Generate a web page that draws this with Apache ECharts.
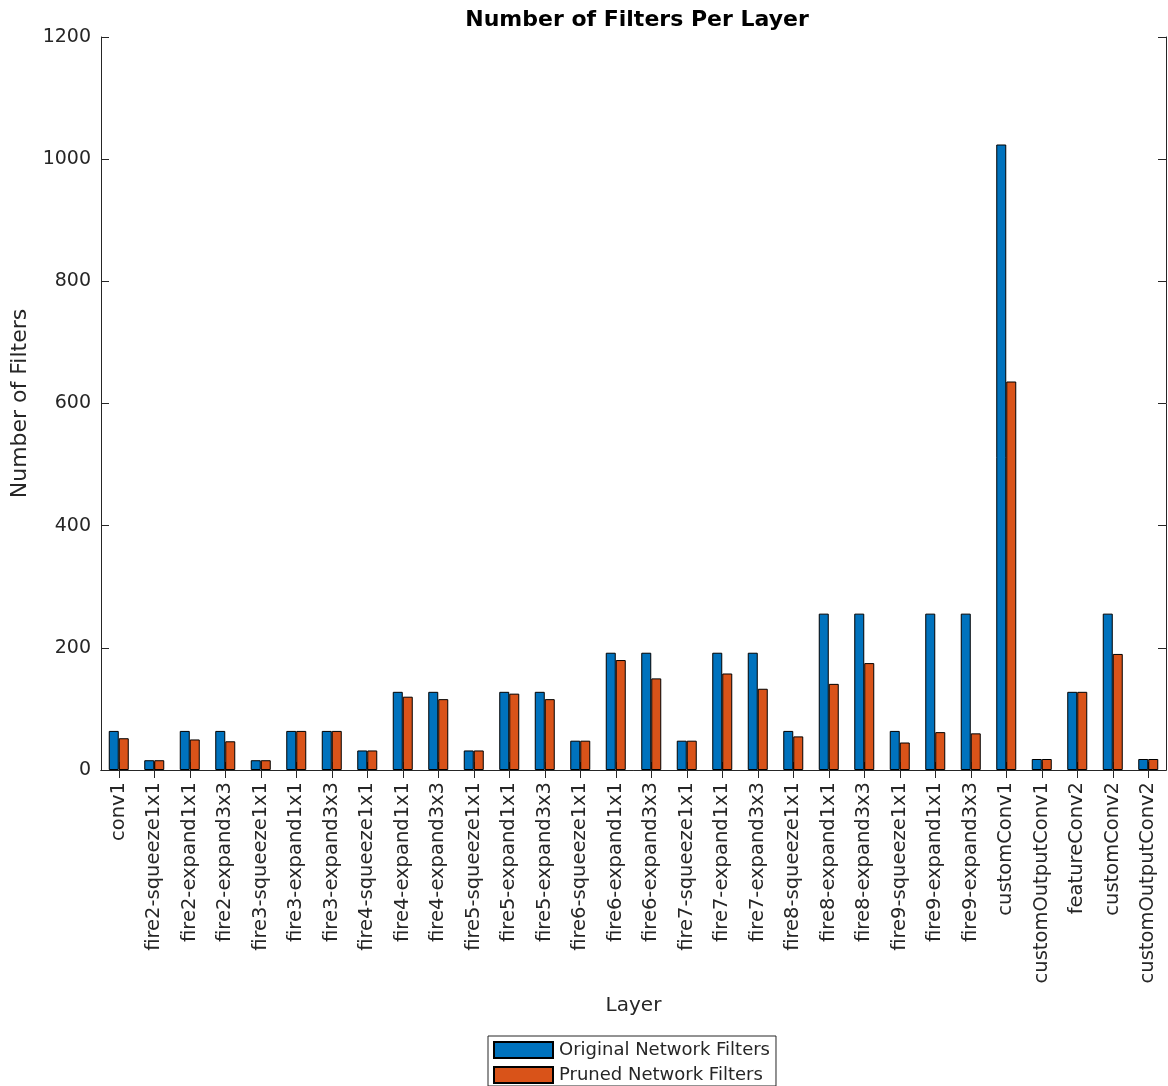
<!DOCTYPE html>
<html>
<head>
<meta charset="utf-8">
<script src="https://cdn.jsdelivr.net/npm/echarts@6/dist/echarts.min.js"></script>
<style>
html,body{margin:0;padding:0;background:#fff;}
#chart{width:1168px;height:1086px;}
</style>
</head>
<body>
<div id="chart"></div>
<script>
const layers = ["conv1","fire2-squeeze1x1","fire2-expand1x1","fire2-expand3x3","fire3-squeeze1x1","fire3-expand1x1","fire3-expand3x3","fire4-squeeze1x1","fire4-expand1x1","fire4-expand3x3","fire5-squeeze1x1","fire5-expand1x1","fire5-expand3x3","fire6-squeeze1x1","fire6-expand1x1","fire6-expand3x3","fire7-squeeze1x1","fire7-expand1x1","fire7-expand3x3","fire8-squeeze1x1","fire8-expand1x1","fire8-expand3x3","fire9-squeeze1x1","fire9-expand1x1","fire9-expand3x3","customConv1","customOutputConv1","featureConv2","customConv2","customOutputConv2"];
const originalFilters = [64,16,64,64,16,64,64,32,128,128,32,128,128,48,192,192,48,192,192,64,256,256,64,256,256,1024,18,128,256,18];
const prunedFilters = [52,16,50,47,16,64,64,32,120,116,32,125,116,48,180,150,48,158,133,55,141,175,45,62,60,636,18,128,190,18];
const yTicks = [0,200,400,600,800,1000,1200];

const FONT = 'DejaVu Sans';
const TXT = '#262626';
const chart = echarts.init(document.getElementById('chart'), null, {renderer:'canvas'});
const tickStyle = {show:true, inside:true, length:8, lineStyle:{color:TXT, width:1}};
chart.setOption({
  animation:false,
  backgroundColor:'#ffffff',
  textStyle:{fontFamily:FONT, color:TXT},
  title:{
    text:'Number of Filters Per Layer',
    left:632, textAlign:'center', top:4,
    textStyle:{fontFamily:FONT, fontWeight:'bold', fontSize:22, color:'#000'}
  },
  legend:{
    orient:'vertical',
    left:488, top:1036,
    itemWidth:59, itemHeight:16, itemGap:7,
    padding:[5,6,2,5],
    borderColor:TXT, borderWidth:1,
    icon:'rect',
    textStyle:{fontFamily:FONT, fontSize:18, color:TXT, padding:[0,0,0,1]},
    data:['Original Network Filters','Pruned Network Filters']
  },
  grid:{left:101, right:2, top:37, bottom:316, containLabel:false},
  xAxis:[{
    type:'category', data:layers, position:'bottom',
    name:'Layer', nameLocation:'middle', nameGap:226,
    nameTextStyle:{fontFamily:FONT, fontSize:20, color:TXT},
    axisLine:{show:true, lineStyle:{color:TXT, width:1}},
    axisTick:Object.assign({alignWithLabel:true, interval:0}, tickStyle),
    axisLabel:{interval:0, rotate:90, margin:12, fontFamily:FONT, fontSize:19.5, color:TXT}
  },{
    type:'category', data:layers, position:'top',
    axisLine:{show:true, lineStyle:{color:TXT, width:1}},
    axisTick:Object.assign({alignWithLabel:true, interval:0}, tickStyle),
    axisLabel:{show:false}
  }],
  yAxis:[{
    type:'value', min:yTicks[0], max:yTicks[yTicks.length-1], interval:200,
    name:'Number of Filters', nameLocation:'middle', nameGap:66, nameRotate:90,
    nameTextStyle:{fontFamily:FONT, fontSize:22, color:TXT},
    axisLine:{show:true, lineStyle:{color:TXT, width:1}},
    axisTick:tickStyle,
    splitLine:{show:false},
    axisLabel:{margin:10, fontFamily:FONT, fontSize:19, color:TXT, formatter:function(v){return String(v);}}
  },{
    type:'value', min:yTicks[0], max:yTicks[yTicks.length-1], interval:200, position:'right',
    axisLine:{show:true, lineStyle:{color:TXT, width:1}},
    axisTick:tickStyle,
    splitLine:{show:false},
    axisLabel:{show:false}
  }],
  series:[{
    name:'Original Network Filters', type:'bar', data:originalFilters,
    xAxisIndex:0, yAxisIndex:0,
    barWidth:10, barGap:'0%',
    itemStyle:{color:'#0072BD', borderColor:'#000', borderWidth:1}
  },{
    name:'Pruned Network Filters', type:'bar', data:prunedFilters,
    xAxisIndex:0, yAxisIndex:0,
    barWidth:10, barGap:'0%',
    itemStyle:{color:'#D95319', borderColor:'#000', borderWidth:1}
  }]
});
</script>
</body>
</html>
